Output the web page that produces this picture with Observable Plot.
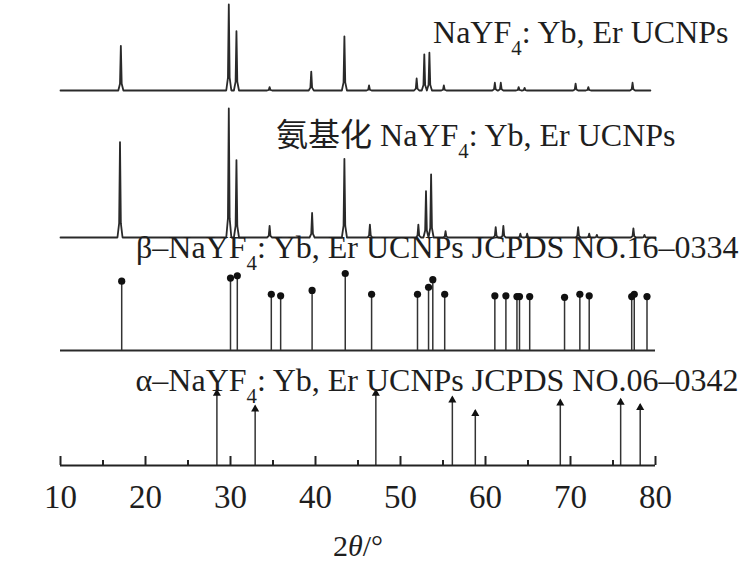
<!DOCTYPE html>
<html><head><meta charset="utf-8">
<script src="https://cdn.jsdelivr.net/npm/d3@7"></script>
<script src="https://cdn.jsdelivr.net/npm/@observablehq/plot@0.6"></script>
<style>
body{margin:0;background:#fff;}
#chart{width:746px;}
#chart svg{display:block;}
#chart svg, #chart text, #chart tspan{font-family:"Liberation Serif","Times New Roman","DejaVu Serif",serif,"Noto Sans CJK SC" !important;}
</style></head><body><div id="chart"></div>
<script>
const xDomain = [10, 80];
const xTicks = [10, 20, 30, 40, 50, 60, 70, 80];
const minorTicks = [15, 25, 35, 45, 55, 65, 75];
const xLabel = "2θ/°";

const ucnpRange = [10, 79.4];
const ucnpPos = [17.1, 29.8, 30.7, 34.6, 39.5, 43.4, 46.3, 51.9, 52.8, 53.4, 55.1, 61.1, 61.8, 63.9, 64.6, 70.6, 72.1, 77.3];
const ucnpInt = [52, 100, 69, 4, 22, 63, 6, 14, 42, 44, 6, 9, 9, 4, 3, 8, 4, 9];

const aminoRange = [10, 80];
const aminoPos = [17.0, 29.8, 30.7, 34.6, 39.6, 43.4, 46.4, 52.1, 53.0, 53.6, 55.3, 61.2, 62.1, 64.1, 64.9, 70.9, 72.2, 73.1, 77.4, 78.7];
const aminoInt = [74, 100, 60, 9, 19, 61, 10, 10, 36, 49, 5, 8, 9, 3, 3, 8, 3, 2, 7, 2];

const betaPos = [17.2, 30.0, 30.8, 34.8, 35.9, 39.6, 43.5, 46.6, 52.0, 53.3, 53.8, 55.2, 61.1, 62.4, 63.7, 64.0, 65.2, 69.3, 71.1, 72.2, 77.2, 77.5, 79.0];
const betaInt = [90, 94, 97, 73, 71, 78, 100, 73, 73, 82, 92, 73, 71, 71, 70, 70, 70, 69, 73, 71, 70, 73, 70];

const alphaPos = [28.4, 32.9, 47.1, 56.1, 58.8, 68.8, 75.9, 78.2];
const alphaInt = [100, 79, 100, 91, 73, 87, 88, 81];

const label1 = "NaYF₄: Yb, Er UCNPs";
const label2 = "氨基化 NaYF₄: Yb, Er UCNPs";
const label3 = "β–NaYF₄: Yb, Er UCNPs JCPDS NO.16–0334";
const label4 = "α–NaYF₄: Yb, Er UCNPs JCPDS NO.06–0342";

// peak list -> drawable profile (narrow spikes on a flat baseline)
function profile(pos, ints, range) {
  const pts = [{x: range[0], y: 0}];
  pos.forEach((p, i) => {
    const h = ints[i];
    pts.push({x: p - 0.3, y: 0}, {x: p - 0.1, y: h * 0.15}, {x: p, y: h}, {x: p + 0.1, y: h * 0.15}, {x: p + 0.3, y: 0});
  });
  pts.push({x: range[1], y: 0});
  return pts.sort((a, b) => a.x - b.x);
}
const sticks = (pos, ints) => pos.map((p, i) => ({x: p, y: ints[i]}));

const FONT = '"Liberation Serif","Times New Roman","DejaVu Serif",serif,"Noto Sans CJK SC"';
const W = 746, ML = 60, MR = 91;
const INK = "#1e1e1e";
const base = (h, mt, mb) => ({
  width: W, height: h, marginLeft: ML, marginRight: MR, marginTop: mt, marginBottom: mb,
  x: {domain: xDomain, axis: null}, y: {domain: [0, 100], axis: null},
  style: {fontFamily: FONT, background: "transparent", overflow: "visible", color: INK}
});
const lbl = (t, dx, dy) => Plot.text([t], {text: d => d, frameAnchor: "top-right", textAnchor: "end", lineAnchor: "bottom", dx, dy, fontSize: 32, fontFamily: FONT, fill: INK});

const p1 = Plot.plot({...base(95, 4, 5), marks: [
  Plot.line(profile(ucnpPos, ucnpInt, ucnpRange), {x: "x", y: "y", stroke: "#2a2a2a", strokeWidth: 1.8}),
  lbl(label1, 73, 38)
]});
const p2 = Plot.plot({...base(145, 13, 3), marks: [
  Plot.line(profile(aminoPos, aminoInt, aminoRange), {x: "x", y: "y", stroke: "#2a2a2a", strokeWidth: 1.8}),
  lbl(label2, 20, 37)
]});
const beta = sticks(betaPos, betaInt);
const p3 = Plot.plot({...base(115, 33, 5), marks: [
  Plot.ruleY([0], {stroke: "#2a2a2a", strokeWidth: 2}),
  Plot.ruleX(beta, {x: "x", y1: 0, y2: "y", stroke: "#333", strokeWidth: 1.5}),
  Plot.dot(beta, {x: "x", y: "y", r: 3.6, fill: "#111", stroke: "none"}),
  lbl(label3, 83, -16)
]});
const alpha = sticks(alphaPos, alphaInt);
const p4 = Plot.plot({...base(208, 35, 98), marks: [
  Plot.ruleX(alpha, {x: "x", y1: 0, y2: "y", stroke: "#333", strokeWidth: 1.5}),
  Plot.dot(alpha, {x: "x", y: "y", symbol: "triangle", r: 3, fill: "#111", stroke: "none", dy: 3}),
  Plot.ruleY([0], {stroke: "#222", strokeWidth: 2}),
  Plot.ruleX(xTicks, {x: d => d, y1: 0, y2: 0, insetTop: -9, stroke: "#222", strokeWidth: 2}),
  Plot.ruleX(minorTicks, {x: d => d, y1: 0, y2: 0, insetTop: -5, stroke: "#222", strokeWidth: 2}),
  Plot.axisX({ticks: xTicks, tickSize: 0, tickPadding: 19, fontSize: 33, fontFamily: FONT, label: null, fill: INK}),
  Plot.text([xLabel], {text: d => d, frameAnchor: "bottom", lineAnchor: "bottom", dy: 90, fontSize: 30, fontFamily: FONT, fill: INK}),
  lbl(label4, 83, 0)
]});

const root = document.getElementById("chart");
[p1, p2, p3, p4].forEach(p => root.appendChild(p));

d3.selectAll("#chart text").each(function () {
  const t = this.textContent;
  if (t.includes("₄")) {
    this.innerHTML = t.replace("₄", '<tspan baseline-shift="sub" style="font-size:65%">4</tspan>');
  } else if (t === xLabel) {
    this.innerHTML = '2<tspan style="font-style:italic">θ</tspan>/°';
  }
});
</script></body></html>
